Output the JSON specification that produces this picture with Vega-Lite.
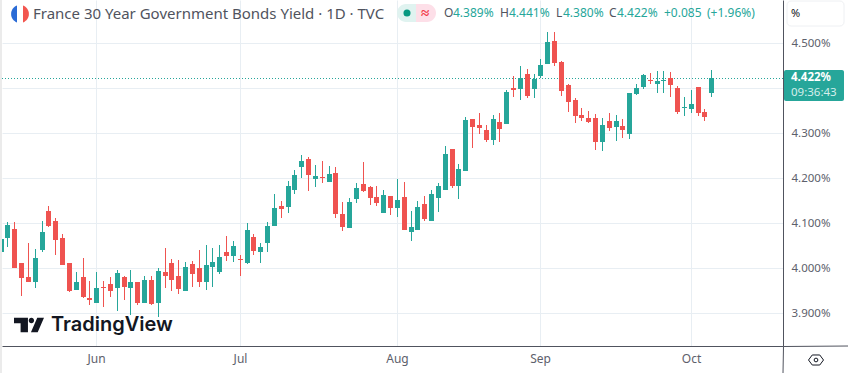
{"$schema":"https://vega.github.io/schema/vega-lite/v6.json","width":781,"height":346,"autosize":"none","padding":{"left":2,"top":0,"right":65,"bottom":27},"background":"white","config":{"view":{"stroke":null},"font":"Noto Sans"},
"datasets":{"candles":[
{"bar":0,"open":4.036,"high":4.07,"low":4.03,"close":4.065},
{"bar":1,"open":4.068,"high":4.103,"low":4.047,"close":4.096},
{"bar":2,"open":4.087,"high":4.103,"low":4.001,"close":4.001},
{"bar":3,"open":4.012,"high":4.012,"low":3.939,"close":3.979},
{"bar":4,"open":3.981,"high":4.056,"low":3.97,"close":3.97},
{"bar":5,"open":3.97,"high":4.043,"low":3.956,"close":4.023},
{"bar":6,"open":4.041,"high":4.105,"low":4.036,"close":4.081},
{"bar":7,"open":4.127,"high":4.139,"low":4.092,"close":4.094},
{"bar":8,"open":4.105,"high":4.112,"low":4.03,"close":4.063},
{"bar":9,"open":4.067,"high":4.076,"low":4.007,"close":4.007},
{"bar":10,"open":4.012,"high":4.012,"low":3.947,"close":3.95},
{"bar":11,"open":3.952,"high":3.992,"low":3.952,"close":3.97},
{"bar":12,"open":3.981,"high":4.023,"low":3.934,"close":3.936},
{"bar":13,"open":3.934,"high":3.972,"low":3.919,"close":3.93},
{"bar":14,"open":3.923,"high":3.992,"low":3.923,"close":3.956},
{"bar":15,"open":3.959,"high":3.972,"low":3.914,"close":3.956},
{"bar":16,"open":3.965,"high":3.981,"low":3.936,"close":3.95},
{"bar":17,"open":3.956,"high":3.996,"low":3.905,"close":3.99},
{"bar":18,"open":3.981,"high":3.983,"low":3.93,"close":3.959},
{"bar":19,"open":3.956,"high":3.996,"low":3.896,"close":3.97},
{"bar":20,"open":3.97,"high":3.97,"low":3.919,"close":3.923},
{"bar":21,"open":3.923,"high":3.983,"low":3.923,"close":3.974},
{"bar":22,"open":3.974,"high":3.983,"low":3.919,"close":3.921},
{"bar":23,"open":3.923,"high":4.001,"low":3.892,"close":3.994},
{"bar":24,"open":3.992,"high":4.045,"low":3.956,"close":3.983},
{"bar":25,"open":4.012,"high":4.021,"low":3.95,"close":3.974},
{"bar":26,"open":3.983,"high":4.019,"low":3.943,"close":3.954},
{"bar":27,"open":3.95,"high":4.014,"low":3.95,"close":4.003},
{"bar":28,"open":4.01,"high":4.016,"low":3.959,"close":3.987},
{"bar":29,"open":4.001,"high":4.041,"low":3.959,"close":3.97},
{"bar":30,"open":3.97,"high":4.052,"low":3.952,"close":4.007},
{"bar":31,"open":4.003,"high":4.045,"low":3.959,"close":4.014},
{"bar":32,"open":3.992,"high":4.052,"low":3.987,"close":4.025},
{"bar":33,"open":4.036,"high":4.072,"low":4.016,"close":4.027},
{"bar":34,"open":4.027,"high":4.061,"low":4.014,"close":4.05},
{"bar":35,"open":4.021,"high":4.03,"low":3.983,"close":4.019},
{"bar":36,"open":4.012,"high":4.101,"low":4.01,"close":4.085},
{"bar":37,"open":4.07,"high":4.076,"low":4.03,"close":4.039},
{"bar":38,"open":4.036,"high":4.056,"low":4.012,"close":4.047},
{"bar":39,"open":4.056,"high":4.103,"low":4.036,"close":4.094},
{"bar":40,"open":4.094,"high":4.165,"low":4.094,"close":4.134},
{"bar":41,"open":4.139,"high":4.15,"low":4.112,"close":4.132},
{"bar":42,"open":4.136,"high":4.194,"low":4.123,"close":4.183},
{"bar":43,"open":4.174,"high":4.219,"low":4.165,"close":4.207},
{"bar":44,"open":4.225,"high":4.252,"low":4.201,"close":4.239},
{"bar":45,"open":4.243,"high":4.247,"low":4.172,"close":4.207},
{"bar":46,"open":4.199,"high":4.23,"low":4.181,"close":4.205},
{"bar":47,"open":4.203,"high":4.239,"low":4.19,"close":4.201},
{"bar":48,"open":4.192,"high":4.227,"low":4.192,"close":4.21},
{"bar":49,"open":4.212,"high":4.225,"low":4.112,"close":4.121},
{"bar":50,"open":4.121,"high":4.147,"low":4.083,"close":4.092},
{"bar":51,"open":4.09,"high":4.156,"low":4.09,"close":4.147},
{"bar":52,"open":4.154,"high":4.19,"low":4.145,"close":4.179},
{"bar":53,"open":4.187,"high":4.236,"low":4.17,"close":4.172},
{"bar":54,"open":4.181,"high":4.183,"low":4.141,"close":4.156},
{"bar":55,"open":4.159,"high":4.183,"low":4.139,"close":4.145},
{"bar":56,"open":4.123,"high":4.174,"low":4.123,"close":4.163},
{"bar":57,"open":4.161,"high":4.161,"low":4.119,"close":4.134},
{"bar":58,"open":4.134,"high":4.199,"low":4.114,"close":4.152},
{"bar":59,"open":4.159,"high":4.192,"low":4.085,"close":4.085},
{"bar":60,"open":4.081,"high":4.127,"low":4.061,"close":4.092},
{"bar":61,"open":4.085,"high":4.15,"low":4.085,"close":4.136},
{"bar":62,"open":4.143,"high":4.161,"low":4.105,"close":4.11},
{"bar":63,"open":4.105,"high":4.174,"low":4.105,"close":4.165},
{"bar":64,"open":4.156,"high":4.19,"low":4.125,"close":4.183},
{"bar":65,"open":4.174,"high":4.272,"low":4.174,"close":4.254},
{"bar":66,"open":4.265,"high":4.265,"low":4.179,"close":4.183},
{"bar":67,"open":4.183,"high":4.232,"low":4.154,"close":4.221},
{"bar":68,"open":4.216,"high":4.336,"low":4.216,"close":4.33},
{"bar":69,"open":4.332,"high":4.332,"low":4.267,"close":4.314},
{"bar":70,"open":4.319,"high":4.345,"low":4.299,"close":4.312},
{"bar":71,"open":4.307,"high":4.319,"low":4.281,"close":4.285},
{"bar":72,"open":4.285,"high":4.341,"low":4.274,"close":4.332},
{"bar":73,"open":4.325,"high":4.345,"low":4.281,"close":4.31},
{"bar":74,"open":4.321,"high":4.396,"low":4.321,"close":4.392},
{"bar":75,"open":4.401,"high":4.427,"low":4.381,"close":4.396},
{"bar":76,"open":4.399,"high":4.45,"low":4.374,"close":4.423},
{"bar":77,"open":4.432,"high":4.443,"low":4.379,"close":4.383},
{"bar":78,"open":4.399,"high":4.432,"low":4.379,"close":4.421},
{"bar":79,"open":4.427,"high":4.465,"low":4.423,"close":4.452},
{"bar":80,"open":4.454,"high":4.525,"low":4.454,"close":4.503},
{"bar":81,"open":4.505,"high":4.525,"low":4.45,"close":4.456},
{"bar":82,"open":4.459,"high":4.461,"low":4.383,"close":4.394},
{"bar":83,"open":4.407,"high":4.41,"low":4.347,"close":4.37},
{"bar":84,"open":4.374,"high":4.379,"low":4.323,"close":4.339},
{"bar":85,"open":4.341,"high":4.356,"low":4.327,"close":4.334},
{"bar":86,"open":4.334,"high":4.35,"low":4.323,"close":4.325},
{"bar":87,"open":4.334,"high":4.343,"low":4.263,"close":4.281},
{"bar":88,"open":4.281,"high":4.334,"low":4.261,"close":4.319},
{"bar":89,"open":4.327,"high":4.345,"low":4.305,"close":4.312},
{"bar":90,"open":4.314,"high":4.341,"low":4.283,"close":4.327},
{"bar":91,"open":4.316,"high":4.332,"low":4.29,"close":4.307},
{"bar":92,"open":4.299,"high":4.39,"low":4.287,"close":4.39},
{"bar":93,"open":4.387,"high":4.41,"low":4.385,"close":4.401},
{"bar":94,"open":4.403,"high":4.432,"low":4.399,"close":4.43},
{"bar":95,"open":4.419,"high":4.434,"low":4.41,"close":4.416},
{"bar":96,"open":4.41,"high":4.439,"low":4.39,"close":4.416},
{"bar":97,"open":4.416,"high":4.439,"low":4.39,"close":4.419},
{"bar":98,"open":4.423,"high":4.436,"low":4.381,"close":4.407},
{"bar":99,"open":4.401,"high":4.405,"low":4.343,"close":4.347},
{"bar":100,"open":4.356,"high":4.381,"low":4.339,"close":4.359},
{"bar":101,"open":4.354,"high":4.396,"low":4.345,"close":4.365},
{"bar":102,"open":4.403,"high":4.403,"low":4.339,"close":4.345},
{"bar":103,"open":4.347,"high":4.354,"low":4.327,"close":4.336},
{"bar":104,"open":4.389,"high":4.441,"low":4.38,"close":4.422}
]},
"layer":[
{"data":{"values":[{"bar":-0.1,"bar2":0.2,"y":4.5962,"y2":3.767}]},"mark":{"type":"rect","fill":"#ebebeb","clip":false},
"encoding":{"x":{"field":"bar","type":"quantitative","scale":{"domain":[0.2,114.5],"round":true,"nice":false,"zero":false,"padding":0},"axis":{"title":null,"values":[14,35,58,79,101],"labelExpr":"datum.value==14?'Jun':datum.value==35?'Jul':datum.value==58?'Aug':datum.value==79?'Sep':'Oct'","grid":true,"gridColor":"#e8eef3","gridWidth":1,"ticks":false,"domain":true,"domainColor":"#50535e","domainWidth":1,"labelColor":"#5d606b","labelFontSize":12,"labelPadding":7,"labelBound":false,"labelFlush":false,"labelOverlap":false}},"x2":{"field":"bar2"},"y":{"field":"y","type":"quantitative","scale":{"domain":[3.8273,4.5962],"round":true,"nice":false,"zero":false},"axis":{"title":null,"orient":"right","values":[3.9,4.0,4.1,4.2,4.3,4.4,4.5],"labelExpr":"datum.value==4.4?'':format(datum.value,'.3f')+'%'","grid":true,"gridColor":"#e8eef3","gridWidth":1,"ticks":false,"domain":true,"domainColor":"#50535e","domainWidth":1,"labelColor":"#5d606b","labelFontSize":11.5,"labelPadding":8,"labelBound":false,"labelFlush":false,"labelOverlap":false}},"y2":{"field":"y2"}}},
{"data":{"values":[{"bar":0.2,"bar2":114.5,"y":4.422}]},"mark":{"type":"rule","color":"#26a69a","strokeDash":[1,2],"strokeWidth":1,"clip":false,"yOffset":0.5},
"encoding":{"x":{"field":"bar","type":"quantitative","scale":{"domain":[0.2,114.5],"round":true,"nice":false,"zero":false,"padding":0}},"x2":{"field":"bar2"},"y":{"field":"y","type":"quantitative","scale":{"domain":[3.8273,4.5962],"round":true,"nice":false,"zero":false}}}},
{"data":{"name":"candles"},"mark":{"type":"rule","strokeWidth":1,"clip":true,"xOffset":0.5},
"encoding":{"x":{"field":"bar","type":"quantitative","scale":{"domain":[0.2,114.5],"round":true,"nice":false,"zero":false,"padding":0}},"y":{"field":"low","type":"quantitative","scale":{"domain":[3.8273,4.5962],"round":true,"nice":false,"zero":false}},"y2":{"field":"high"},"color":{"condition":{"test":"datum.close>=datum.open","value":"#26a69a"},"value":"#ef5350"}}},
{"data":{"name":"candles"},"mark":{"type":"bar","size":5,"clip":true,"xOffset":0.5},
"encoding":{"x":{"field":"bar","type":"quantitative","scale":{"domain":[0.2,114.5],"round":true,"nice":false,"zero":false,"padding":0}},"y":{"field":"open","type":"quantitative","scale":{"domain":[3.8273,4.5962],"round":true,"nice":false,"zero":false}},"y2":{"field":"close"},"color":{"condition":{"test":"datum.close>=datum.open","value":"#26a69a"},"value":"#ef5350"}}},
{"data":{"values":[{"bar":114.5,"y":3.8273,"y2":3.767,"bar2":114.5},{"bar":114.5,"bar2":124.2,"y":3.8273,"y2":3.8273}]},"mark":{"type":"rule","color":"#50535e","strokeWidth":1,"clip":false,"xOffset":0.5,"yOffset":0.5},
"encoding":{"x":{"field":"bar","type":"quantitative","scale":{"domain":[0.2,114.5],"round":true,"nice":false,"zero":false,"padding":0}},"x2":{"field":"bar2"},"y":{"field":"y","type":"quantitative","scale":{"domain":[3.8273,4.5962],"round":true,"nice":false,"zero":false}},"y2":{"field":"y2"}}},
{"data":{"values":[{"bar":114.64,"bar2":123.42,"y":4.4407,"y2":4.3718}]},"mark":{"type":"rect","fill":"#26a69a","cornerRadius":2,"clip":false},
"encoding":{"x":{"field":"bar","type":"quantitative","scale":{"domain":[0.2,114.5],"round":true,"nice":false,"zero":false,"padding":0}},"x2":{"field":"bar2"},"y":{"field":"y","type":"quantitative","scale":{"domain":[3.8273,4.5962],"round":true,"nice":false,"zero":false}},"y2":{"field":"y2"}}},
{"data":{"values":[{"bar":115.1,"bar2":123.5,"y":4.594,"y2":4.5384}]},"mark":{"type":"rect","fill":"white","stroke":"#eef0f3","strokeWidth":1,"cornerRadius":4,"clip":false},
"encoding":{"x":{"field":"bar","type":"quantitative","scale":{"domain":[0.2,114.5],"round":true,"nice":false,"zero":false,"padding":0}},"x2":{"field":"bar2"},"y":{"field":"y","type":"quantitative","scale":{"domain":[3.8273,4.5962],"round":true,"nice":false,"zero":false}},"y2":{"field":"y2"}}},
{"data":{"values":[{"bar":57.97,"bar2":60.8,"y":4.5873,"y2":4.5473}]},"mark":{"type":"rect","fill":"#e0f3f0","cornerRadiusTopLeft":9,"cornerRadiusBottomLeft":9,"clip":false},
"encoding":{"x":{"field":"bar","type":"quantitative","scale":{"domain":[0.2,114.5],"round":true,"nice":false,"zero":false,"padding":0}},"x2":{"field":"bar2"},"y":{"field":"y","type":"quantitative","scale":{"domain":[3.8273,4.5962],"round":true,"nice":false,"zero":false}},"y2":{"field":"y2"}}},
{"data":{"values":[{"bar":60.8,"bar2":63.7,"y":4.5873,"y2":4.5473}]},"mark":{"type":"rect","fill":"#fddfe8","cornerRadiusTopRight":9,"cornerRadiusBottomRight":9,"clip":false},
"encoding":{"x":{"field":"bar","type":"quantitative","scale":{"domain":[0.2,114.5],"round":true,"nice":false,"zero":false,"padding":0}},"x2":{"field":"bar2"},"y":{"field":"y","type":"quantitative","scale":{"domain":[3.8273,4.5962],"round":true,"nice":false,"zero":false}},"y2":{"field":"y2"}}},
{"data":{"values":[{"bar":59.47,"y":4.5673}]},"mark":{"type":"point","filled":true,"shape":"circle","size":50,"color":"#089981","opacity":1,"clip":false},
"encoding":{"x":{"field":"bar","type":"quantitative","scale":{"domain":[0.2,114.5],"round":true,"nice":false,"zero":false,"padding":0}},"y":{"field":"y","type":"quantitative","scale":{"domain":[3.8273,4.5962],"round":true,"nice":false,"zero":false}}}},
{"data":{"values":[{"bar":2.84,"y":4.5651}]},"mark":{"type":"point","filled":true,"shape":"M -0.33 -0.94 A 1 1 0 0 0 -0.33 0.94 Z","size":324,"color":"#2a6bd6","opacity":1,"clip":false},
"encoding":{"x":{"field":"bar","type":"quantitative","scale":{"domain":[0.2,114.5],"round":true,"nice":false,"zero":false,"padding":0}},"y":{"field":"y","type":"quantitative","scale":{"domain":[3.8273,4.5962],"round":true,"nice":false,"zero":false}}}},
{"data":{"values":[{"bar":2.84,"y":4.5651}]},"mark":{"type":"point","filled":true,"shape":"M 0.33 -0.94 A 1 1 0 0 1 0.33 0.94 Z","size":324,"color":"#f2564f","opacity":1,"clip":false},
"encoding":{"x":{"field":"bar","type":"quantitative","scale":{"domain":[0.2,114.5],"round":true,"nice":false,"zero":false,"padding":0}},"y":{"field":"y","type":"quantitative","scale":{"domain":[3.8273,4.5962],"round":true,"nice":false,"zero":false}}}},
{"data":{"values":[{"bar":4.15,"y":3.875}]},"mark":{"type":"point","filled":true,"shape":"M -1 -0.48 L -0.07 -0.48 L -0.07 0.48 L -0.56 0.48 L -0.56 -0.12 L -1 -0.12 Z M -0.02 -0.3 A 0.18 0.18 0 1 0 0.34 -0.3 A 0.18 0.18 0 1 0 -0.02 -0.3 Z M 0.55 -0.48 L 1 -0.48 L 0.58 0.48 L 0.13 0.48 Z","size":900,"color":"#131722","opacity":1,"clip":false},
"encoding":{"x":{"field":"bar","type":"quantitative","scale":{"domain":[0.2,114.5],"round":true,"nice":false,"zero":false,"padding":0}},"y":{"field":"y","type":"quantitative","scale":{"domain":[3.8273,4.5962],"round":true,"nice":false,"zero":false}}}},
{"data":{"values":[{"bar":119.4,"y":3.7962}]},"mark":{"type":"point","filled":false,"shape":"M -1 0 L -0.5 -0.67 L 0.5 -0.67 L 1 0 L 0.5 0.67 L -0.5 0.67 Z","size":225,"color":"#131722","strokeWidth":1,"opacity":1,"clip":false},
"encoding":{"x":{"field":"bar","type":"quantitative","scale":{"domain":[0.2,114.5],"round":true,"nice":false,"zero":false,"padding":0}},"y":{"field":"y","type":"quantitative","scale":{"domain":[3.8273,4.5962],"round":true,"nice":false,"zero":false}}}},
{"data":{"values":[{"bar":119.4,"y":3.7962}]},"mark":{"type":"point","filled":false,"shape":"circle","size":14,"color":"#131722","strokeWidth":1,"opacity":1,"clip":false},
"encoding":{"x":{"field":"bar","type":"quantitative","scale":{"domain":[0.2,114.5],"round":true,"nice":false,"zero":false,"padding":0}},"y":{"field":"y","type":"quantitative","scale":{"domain":[3.8273,4.5962],"round":true,"nice":false,"zero":false}}}},
{"data":{"values":[{"bar":4.74,"y":4.565,"label":"France 30 Year Government Bonds Yield · 1D · TVC"}]},"mark":{"type":"text","align":"left","baseline":"middle","font":"Noto Sans","fontSize":15,"color":"#50535e","clip":false},
"encoding":{"x":{"field":"bar","type":"quantitative","scale":{"domain":[0.2,114.5],"round":true,"nice":false,"zero":false,"padding":0}},"y":{"field":"y","type":"quantitative","scale":{"domain":[3.8273,4.5962],"round":true,"nice":false,"zero":false}},"text":{"field":"label"}}},
{"data":{"values":[{"bar":64.9,"y":4.567,"label":"O","kind":"name"},{"bar":66.25,"y":4.567,"label":"4.389%","kind":"value"},{"bar":73.04,"y":4.567,"label":"H","kind":"name"},{"bar":74.4,"y":4.567,"label":"4.441%","kind":"value"},{"bar":81.24,"y":4.567,"label":"L","kind":"name"},{"bar":82.35,"y":4.567,"label":"4.380%","kind":"value"},{"bar":89.03,"y":4.567,"label":"C","kind":"name"},{"bar":90.25,"y":4.567,"label":"4.422%","kind":"value"},{"bar":97.1,"y":4.567,"label":"+0.085","kind":"value"},{"bar":103.4,"y":4.567,"label":"(+1.96%)","kind":"value"}]},"mark":{"type":"text","align":"left","baseline":"middle","font":"Noto Sans","fontSize":12,"clip":false},
"encoding":{"x":{"field":"bar","type":"quantitative","scale":{"domain":[0.2,114.5],"round":true,"nice":false,"zero":false,"padding":0}},"y":{"field":"y","type":"quantitative","scale":{"domain":[3.8273,4.5962],"round":true,"nice":false,"zero":false}},"text":{"field":"label"},"color":{"field":"kind","type":"nominal","legend":null,"scale":{"domain":["name","value"],"range":["#50535e","#26a69a"]}}}},
{"data":{"values":[{"bar":62.1,"y":4.567,"label":"≈"}]},"mark":{"type":"text","align":"center","baseline":"middle","font":"Noto Sans","fontSize":15,"fontWeight":"bold","color":"#f23645","clip":false},
"encoding":{"x":{"field":"bar","type":"quantitative","scale":{"domain":[0.2,114.5],"round":true,"nice":false,"zero":false,"padding":0}},"y":{"field":"y","type":"quantitative","scale":{"domain":[3.8273,4.5962],"round":true,"nice":false,"zero":false}},"text":{"field":"label"}}},
{"data":{"values":[{"bar":115.66,"y":4.566,"label":"%"}]},"mark":{"type":"text","align":"left","baseline":"middle","font":"Noto Sans","fontSize":11,"color":"#131722","clip":false},
"encoding":{"x":{"field":"bar","type":"quantitative","scale":{"domain":[0.2,114.5],"round":true,"nice":false,"zero":false,"padding":0}},"y":{"field":"y","type":"quantitative","scale":{"domain":[3.8273,4.5962],"round":true,"nice":false,"zero":false}},"text":{"field":"label"}}},
{"data":{"values":[{"bar":115.66,"y":4.4229,"label":"4.422%"}]},"mark":{"type":"text","align":"left","baseline":"middle","font":"Noto Sans","fontSize":11.5,"fontWeight":"bold","color":"white","clip":false},
"encoding":{"x":{"field":"bar","type":"quantitative","scale":{"domain":[0.2,114.5],"round":true,"nice":false,"zero":false,"padding":0}},"y":{"field":"y","type":"quantitative","scale":{"domain":[3.8273,4.5962],"round":true,"nice":false,"zero":false}},"text":{"field":"label"}}},
{"data":{"values":[{"bar":115.66,"y":4.3902,"label":"09:36:43"}]},"mark":{"type":"text","align":"left","baseline":"middle","font":"Noto Sans","fontSize":11.5,"color":"#d4eeeb","clip":false},
"encoding":{"x":{"field":"bar","type":"quantitative","scale":{"domain":[0.2,114.5],"round":true,"nice":false,"zero":false,"padding":0}},"y":{"field":"y","type":"quantitative","scale":{"domain":[3.8273,4.5962],"round":true,"nice":false,"zero":false}},"text":{"field":"label"}}},
{"data":{"values":[{"bar":7.37,"y":3.874,"label":"TradingView"}]},"mark":{"type":"text","align":"left","baseline":"middle","font":"Inter","fontSize":20,"fontWeight":600,"color":"#131722","clip":false},
"encoding":{"x":{"field":"bar","type":"quantitative","scale":{"domain":[0.2,114.5],"round":true,"nice":false,"zero":false,"padding":0}},"y":{"field":"y","type":"quantitative","scale":{"domain":[3.8273,4.5962],"round":true,"nice":false,"zero":false}},"text":{"field":"label"}}}
]}
